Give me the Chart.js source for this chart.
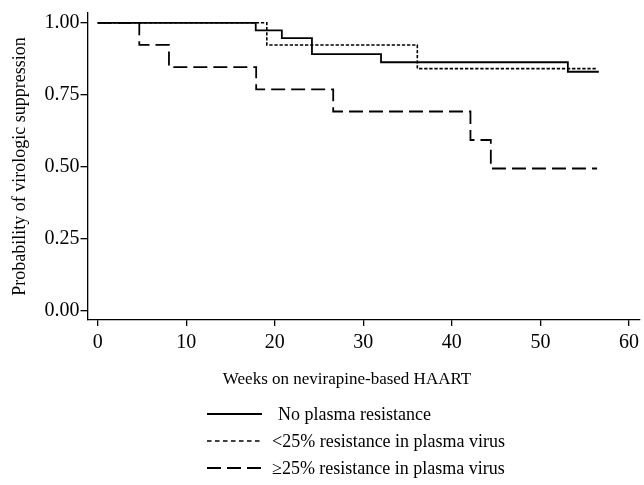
<!DOCTYPE html>
<html>
<head>
<meta charset="utf-8">
<script src="https://cdn.jsdelivr.net/npm/chart.js@4.4.1/dist/chart.umd.min.js"></script>
<style>
  html, body { margin: 0; padding: 0; background: #fff; }
  #wrap { width: 644px; height: 485px; }
</style>
</head>
<body>
<div id="wrap"><canvas id="kmChart" width="644" height="485"></canvas></div>
<script>
// ---- data ----
const noResWeeks   = [0, 17.85, 20.8, 24.2, 32.0, 53.1, 56.6];
const noResSurv    = [1, 0.974, 0.947, 0.891, 0.863, 0.830, 0.830];

const lowResWeeks  = [0, 19.1, 36.1, 56.4];
const lowResSurv   = [1, 0.923, 0.841, 0.841];

const highResWeeks = [0, 4.7, 8.05, 17.9, 26.6, 42.1, 44.4, 56.4];
const highResSurv  = [1, 0.923, 0.846, 0.769, 0.692, 0.593, 0.494, 0.494];

const seriesLabels = [
    "No plasma resistance",
    "<25% resistance in plasma virus",
    "\u226525% resistance in plasma virus",
];
const xTickValues = [0, 10, 20, 30, 40, 50, 60];
const yTickValues = [0, 0.25, 0.5, 0.75, 1];
const xTitle = "Weeks on nevirapine-based HAART";
const yTitle = "Probability of virologic suppression";

const toPoints = (xs, ys) => xs.map((x, i) => ({ x, y: ys[i] }));

const serif = "'Liberation Serif', 'Times New Roman', serif";
Chart.defaults.font.family = serif;
Chart.defaults.font.size = 17;
Chart.defaults.color = "#000";

// legend + x title drawn under the plot
const bottomText = {
    id: "bottomText",
    afterDraw(chart) {
        const ctx = chart.ctx;
        ctx.save();
        ctx.fillStyle = "#000";
        ctx.font = "17px " + serif;
        ctx.textBaseline = "middle";
        ctx.textAlign = "center";
        ctx.fillText(xTitle, 347, 380);

        ctx.font = "18px " + serif;
        ctx.textAlign = "left";
        chart.data.datasets.forEach((ds, i) => {
            const y = 414 + 27 * i;
            ctx.beginPath();
            ctx.setLineDash(ds.legendDash || []);
            ctx.lineWidth = ds.borderWidth;
            ctx.strokeStyle = "#000";
            ctx.moveTo(207, y);
            ctx.lineTo(262, y);
            ctx.stroke();
            ctx.setLineDash([]);
            ctx.fillText(ds.label, i === 0 ? 278 : 272, y + 1);
        });
        ctx.restore();
    },
};

new Chart(document.getElementById("kmChart"), {
    type: "line",
    data: {
        datasets: [
            {
                label: seriesLabels[0],
                data: toPoints(noResWeeks, noResSurv),
                borderColor: "#000",
                borderWidth: 1.8,
                stepped: true,
                pointRadius: 0,
                legendDash: [],
            },
            {
                label: seriesLabels[1],
                data: toPoints(lowResWeeks, lowResSurv),
                borderColor: "#000",
                borderWidth: 1.6,
                borderDash: [3.3, 1.8],
                stepped: true,
                pointRadius: 0,
                legendDash: [4.5, 3.5],
            },
            {
                label: seriesLabels[2],
                data: toPoints(highResWeeks, highResSurv),
                borderColor: "#000",
                borderWidth: 1.8,
                borderDash: [14, 6],
                stepped: true,
                pointRadius: 0,
                legendDash: [14, 6],
            },
        ],
    },
    options: {
        responsive: false,
        animation: false,
        layout: { padding: { top: 12, right: 3, left: 0, bottom: 95 } },
        plugins: {
            legend: { display: false },
            tooltip: { enabled: false },
        },
        scales: {
            x: {
                type: "linear",
                min: -1.15,
                max: 61.2,
                afterFit: (s) => { s.height = 70; },
                afterBuildTicks: (s) => { s.ticks = xTickValues.map((v) => ({ value: v })); },
                border: { color: "#000", width: 1.3 },
                grid: { drawOnChartArea: false, color: "#000", lineWidth: 1.3, tickLength: 6 },
                ticks: { padding: 5, font: { size: 20 }, callback: (v) => String(v) },
                title: { display: false },
            },
            y: {
                min: -0.032,
                max: 1.034,
                afterFit: (s) => { s.width = 87.5; },
                afterBuildTicks: (s) => { s.ticks = yTickValues.map((v) => ({ value: v })); },
                border: { color: "#000", width: 1.3 },
                grid: { drawOnChartArea: false, color: "#000", lineWidth: 1.3, tickLength: 7 },
                ticks: { padding: 1, font: { size: 20 }, callback: (v) => v.toFixed(2) },
                title: { display: true, text: yTitle, font: { size: 18 }, padding: { top: 9, bottom: 0 } },
            },
        },
    },
    plugins: [bottomText],
});
</script>
</body>
</html>
